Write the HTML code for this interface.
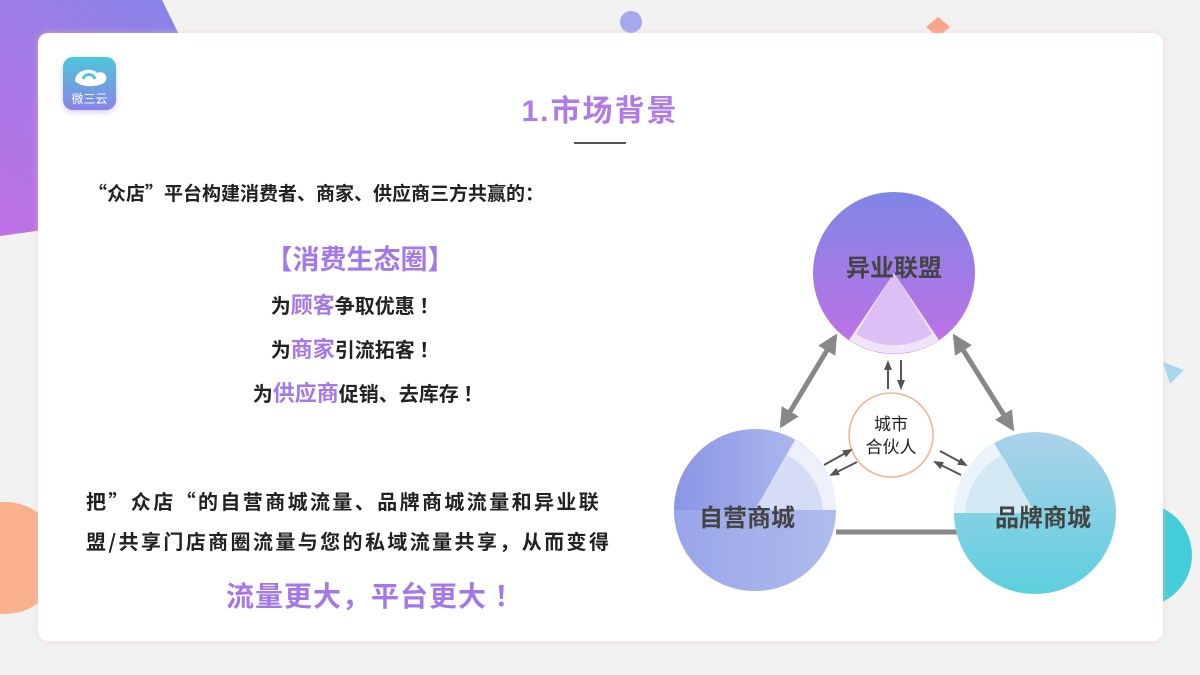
<!DOCTYPE html>
<html><head><meta charset="utf-8"><style>
html,body{margin:0;padding:0}
body{width:1200px;height:675px;position:relative;overflow:hidden;background:#f2f2f2;font-family:"Liberation Sans","Noto Sans CJK SC",sans-serif}
.card{position:absolute;left:38px;top:33px;width:1125px;height:608px;background:#fff;border-radius:10px;box-shadow:0 0 8px rgba(240,200,190,.5)}
.t{position:absolute;white-space:nowrap;font-weight:bold;color:#222;font-family:"Noto Sans CJK SC",sans-serif}
.p{color:#a478e8}
</style></head><body>
<svg style="position:absolute;left:0;top:0" width="1200" height="675">
<defs>
<linearGradient id="bg1" x1="0" y1="1" x2="1" y2="0"><stop offset="0" stop-color="#c070e6"/><stop offset="1" stop-color="#7c88e8"/></linearGradient>
</defs>
<polygon points="0,0 162,0 260,200 0,236" fill="url(#bg1)"/>
<circle cx="631" cy="22" r="11" fill="#a4a8ee"/>
<polygon points="938,17 950,27 938,37 926,27" fill="#f8a58a"/>
<circle cx="5" cy="558" r="56" fill="#f9b08c"/>
<circle cx="1140" cy="555" r="52" fill="#42cdd8"/>
<polygon points="1163,362 1184,370 1170,384" fill="#a9d6ef"/>
</svg>
<div class="card"></div>
<div style="position:absolute;left:63px;top:57px;width:53px;height:53px;border-radius:10px;background:linear-gradient(180deg,#4cc6da,#8a84e4);box-shadow:0 2px 6px rgba(150,120,230,.4)">
<svg width="53" height="53"><path d="M12 24 C12 12 30 10 34 16 C44 12 48 26 36 28 C28 30 18 30 12 24 Z" fill="#fff"/><path d="M20 22 C22 16 30 16 32 22" stroke="#4cc6da" stroke-width="3" fill="none"/><text x="26.5" y="46" text-anchor="middle" font-size="12" fill="#fff" font-family="Noto Sans CJK SC,sans-serif">微三云</text></svg></div>

<div class="t" style="left:0;width:1200px;text-align:center;top:90px;font-size:30px;letter-spacing:2px;color:#b07ae8;font-family:'Liberation Sans','Noto Sans CJK SC',sans-serif;line-height:44px">1.市场背景</div>
<div style="position:absolute;left:574px;top:142px;width:52px;height:2px;background:#555"></div>

<div class="t" style="left:88px;top:179px;font-size:19px">“众店”平台构建消费者、商家、供应商三方共赢的：</div>
<div class="t p" style="left:260px;top:238px;width:200px;text-align:center;font-size:27px">【消费生态圈】</div>
<div class="t" style="left:0;width:710px;text-align:center;top:288px;font-size:20px">为<span class="p" style="font-size:22px">顾客</span>争取优惠 ！</div>
<div class="t" style="left:0;width:710px;text-align:center;top:332px;font-size:20px">为<span class="p" style="font-size:22px">商家</span>引流拓客 ！</div>
<div class="t" style="left:0;width:736px;text-align:center;top:376px;font-size:20px">为<span class="p" style="font-size:22px">供应商</span>促销、去库存 ！</div>

<div class="t" style="left:86px;top:486px;font-size:20px;letter-spacing:2.4px">把”众店“的自营商城流量、品牌商城流量和异业联</div>
<div class="t" style="left:86px;top:526px;font-size:20px;letter-spacing:2.4px">盟/共享门店商圈流量与您的私域流量共享，从而变得</div>
<div class="t p" style="left:226px;top:575px;font-size:28px;letter-spacing:1px">流量更大，平台更大 ！</div>

<svg style="position:absolute;left:0;top:0" width="1200" height="675">
<defs>
<linearGradient id="gt" x1="0" y1="0" x2="0" y2="1"><stop offset="0" stop-color="#7f86e6"/><stop offset="1" stop-color="#c270e6"/></linearGradient>
<linearGradient id="gl" x1="0" y1="0" x2="1" y2="0"><stop offset="0" stop-color="#8b95e6"/><stop offset="1" stop-color="#b4c2ee"/></linearGradient>
<linearGradient id="gr" x1="0" y1="0" x2="0" y2="1"><stop offset="0" stop-color="#acd2ea"/><stop offset="1" stop-color="#5ccfde"/></linearGradient>
<marker id="ah" viewBox="0 0 10 10" refX="8" refY="5" markerWidth="4" markerHeight="4" orient="auto-start-reverse"><path d="M0,0 L10,5 L0,10 z" fill="#888"/></marker>
<marker id="as" viewBox="0 0 10 10" refX="8" refY="5" markerWidth="5" markerHeight="5" orient="auto"><path d="M0,1 L10,5 L0,9 z" fill="#555"/></marker>
</defs>
<line x1="836" y1="532" x2="958" y2="532" stroke="#888" stroke-width="5"/>
<line x1="835" y1="337" x2="782" y2="425" stroke="#888" stroke-width="5" marker-start="url(#ah)" marker-end="url(#ah)"/>
<line x1="955" y1="337" x2="1012" y2="428" stroke="#888" stroke-width="5" marker-start="url(#ah)" marker-end="url(#ah)"/>
<circle cx="894" cy="273" r="81" fill="url(#gt)"/>
<path d="M894 273 L849 340 A81 81 0 0 0 939 340 Z" fill="#f0e4f8"/>
<path d="M894 273 L856 334 A70 70 0 0 0 932 334 Z" fill="#dcbff4"/>
<text x="894" y="276" text-anchor="middle" font-size="24" font-weight="bold" fill="#444" font-family="Noto Sans CJK SC,sans-serif">异业联盟</text>
<circle cx="755" cy="510" r="81" fill="url(#gl)"/>
<path d="M755 510 L795 440 A81 81 0 0 1 836 510 Z" fill="#eef1fb"/>
<path d="M755 510 L787 455 A68 68 0 0 1 823 510 Z" fill="#d5dcf5"/>
<path d="M674 510 A81 81 0 0 0 836 510 Z" fill="#a8b6ec" opacity="0.5"/>
<text x="747" y="526" text-anchor="middle" font-size="24" font-weight="bold" fill="#444" font-family="Noto Sans CJK SC,sans-serif">自营商城</text>
<circle cx="1035" cy="513" r="81" fill="url(#gr)"/>
<path d="M1035 513 L994 443 A81 81 0 0 0 954 513 Z" fill="#eaf4fa"/>
<path d="M1035 513 L1002 455 A70 70 0 0 0 965 513 Z" fill="#d2e8f3"/>
<text x="1043" y="526" text-anchor="middle" font-size="24" font-weight="bold" fill="#444" font-family="Noto Sans CJK SC,sans-serif">品牌商城</text>
<circle cx="891" cy="435" r="42" fill="#fff" stroke="#f4b08e" stroke-width="1.5"/>
<text x="891" y="430" text-anchor="middle" font-size="17" fill="#222" font-family="Noto Sans CJK SC,sans-serif">城市</text>
<text x="891" y="453" text-anchor="middle" font-size="17" fill="#222" font-family="Noto Sans CJK SC,sans-serif">合伙人</text>
<line x1="888" y1="389" x2="888" y2="362" stroke="#555" stroke-width="2" marker-end="url(#as)"/>
<line x1="901" y1="360" x2="901" y2="388" stroke="#555" stroke-width="2" marker-end="url(#as)"/>
<line x1="824" y1="465" x2="851" y2="450" stroke="#555" stroke-width="2" marker-end="url(#as)"/>
<line x1="857" y1="462" x2="831" y2="475" stroke="#555" stroke-width="2" marker-end="url(#as)"/>
<line x1="940" y1="451" x2="966" y2="465" stroke="#555" stroke-width="2" marker-end="url(#as)"/>
<line x1="961" y1="475" x2="935" y2="462" stroke="#555" stroke-width="2" marker-end="url(#as)"/>
</svg>
</body></html>
